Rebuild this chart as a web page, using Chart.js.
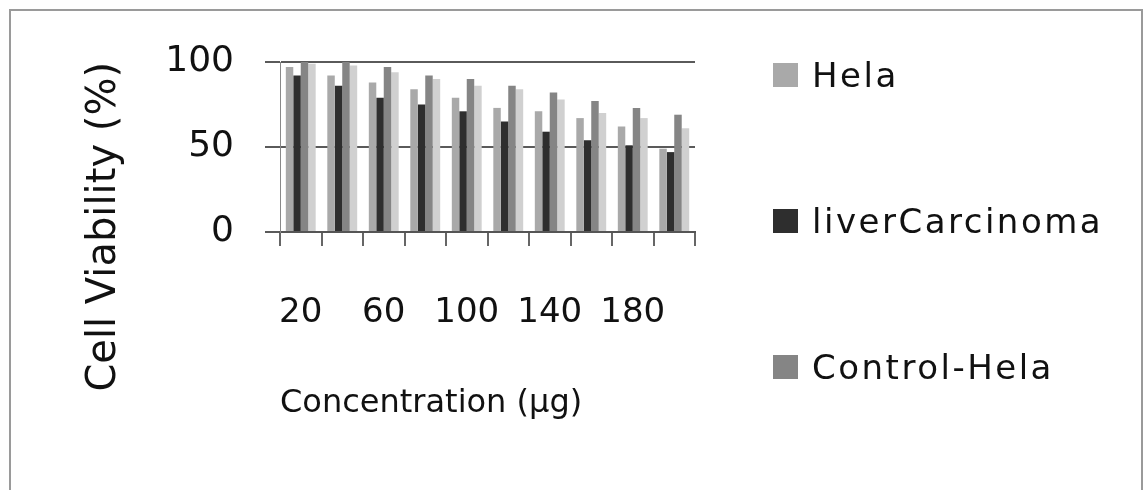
<!DOCTYPE html>
<html>
<head>
<meta charset="utf-8">
<title>Cell viability</title>
<script src="https://cdn.jsdelivr.net/npm/chart.js@4.4.1/dist/chart.umd.min.js"></script>
<style>
    body { margin: 0; background: #fff; overflow: hidden; }
    #wrap { position: relative; width: 1148px; height: 490px; overflow: hidden; background: #fff; }
    #frame { position: absolute; left: 9px; top: 9px; width: 1130px; height: 600px; border: 2px solid #9a9a9a; }
    #cellChart { position: absolute; left: 0; top: 0; }
    #legend { position: absolute; left: 773px; top: 55px; font-family: 'DejaVu Sans'; font-size: 34px; color: #111; letter-spacing: 2.5px; }
    .item { display: flex; align-items: center; height: 40px; margin-bottom: 106px; white-space: nowrap; }
    .swatch { width: 25px; height: 24px; margin-right: 14px; }
</style>
</head>
<body>
<div id="wrap">
    <div id="frame"></div>
    <canvas id="cellChart" width="1148" height="490"></canvas>
    <div id="legend"></div>
</div>
<script>
// nồng độ (µg) và % tế bào sống
const categories = ['20', '40', '60', '80', '100', '120', '140', '160', '180', '200'];
const helaValues = [97, 92, 88, 84, 79, 73, 71, 67, 62, 49];
const liverValues = [92, 86, 79, 75, 71, 65, 59, 54, 51, 47];
const controlHelaValues = [100, 100, 97, 92, 90, 86, 82, 77, 73, 69];
// 4th series: its legend entry is cut off at the bottom of the picture
const controlLiverValues = [99, 98, 94, 90, 86, 84, 78, 70, 67, 61];
const yTicks = [0, 50, 100];
const legendCount = 3;

const fontFamily = 'DejaVu Sans';

// legend drawn as html, built from chart's own legend items
const htmlLegend = {
    id: 'htmlLegend',
    afterUpdate(chart) {
        const box = document.getElementById('legend');
        box.innerHTML = '';
        Chart.defaults.plugins.legend.labels.generateLabels(chart)
            .filter(item => item.datasetIndex < legendCount)
            .forEach(item => {
                const row = document.createElement('div');
                row.className = 'item';
                const swatch = document.createElement('span');
                swatch.className = 'swatch';
                swatch.style.background = item.fillStyle;
                const text = document.createElement('span');
                text.textContent = item.text;
                row.appendChild(swatch);
                row.appendChild(text);
                box.appendChild(row);
            });
    }
};

new Chart(document.querySelector('#cellChart'), {
    type: 'bar',
    data: {
        labels: categories,
        datasets: [
            { label: 'Hela', data: helaValues, backgroundColor: '#a9a9a9' },
            { label: 'liverCarcinoma', data: liverValues, backgroundColor: '#2e2e2e' },
            { label: 'Control-Hela', data: controlHelaValues, backgroundColor: '#858585' },
            { label: 'Control-liverCarcinoma', data: controlLiverValues, backgroundColor: '#d0d0d0' }
        ]
    },
    options: {
        responsive: false,
        animation: false,
        datasets: {
            bar: { categoryPercentage: 0.72, barPercentage: 1, borderWidth: 0 }
        },
        layout: { padding: { top: 62, right: 453, bottom: 0, left: 0 } },
        plugins: {
            legend: { display: false },
            tooltip: { enabled: false }
        },
        scales: {
            x: {
                grid: { drawOnChartArea: false, drawTicks: true, tickLength: 14, color: '#666', lineWidth: 2 },
                border: { display: true, color: '#555', width: 2 },
                ticks: {
                    autoSkip: false,
                    maxRotation: 0,
                    minRotation: 0,
                    padding: 47,
                    color: '#111',
                    font: { family: fontFamily, size: 34 },
                    callback: (value, index) => index % 2 === 0 ? categories[index] : ''
                },
                title: {
                    display: true,
                    text: 'Concentration (µg)',
                    align: 'start',
                    color: '#111',
                    font: { family: fontFamily, size: 32 },
                    padding: { top: 0, bottom: 67 }
                },
                afterFit(scale) { scale.height = 258; }
            },
            y: {
                min: yTicks[0],
                max: yTicks[yTicks.length - 1],
                ticks: {
                    stepSize: yTicks[1] - yTicks[0],
                    padding: 31,
                    color: '#111',
                    font: { family: fontFamily, size: 36 }
                },
                grid: { color: '#5a5a5a', lineWidth: 2, tickLength: 15 },
                border: { display: true, color: '#888', width: 1 },
                title: {
                    display: true,
                    text: 'Cell Viability (%)',
                    align: 'end',
                    color: '#111',
                    font: { family: fontFamily, size: 40 },
                    padding: { top: 81, bottom: 0 }
                },
                afterFit(scale) { scale.width = 280; }
            }
        }
    },
    plugins: [htmlLegend]
});
</script>
</body>
</html>
